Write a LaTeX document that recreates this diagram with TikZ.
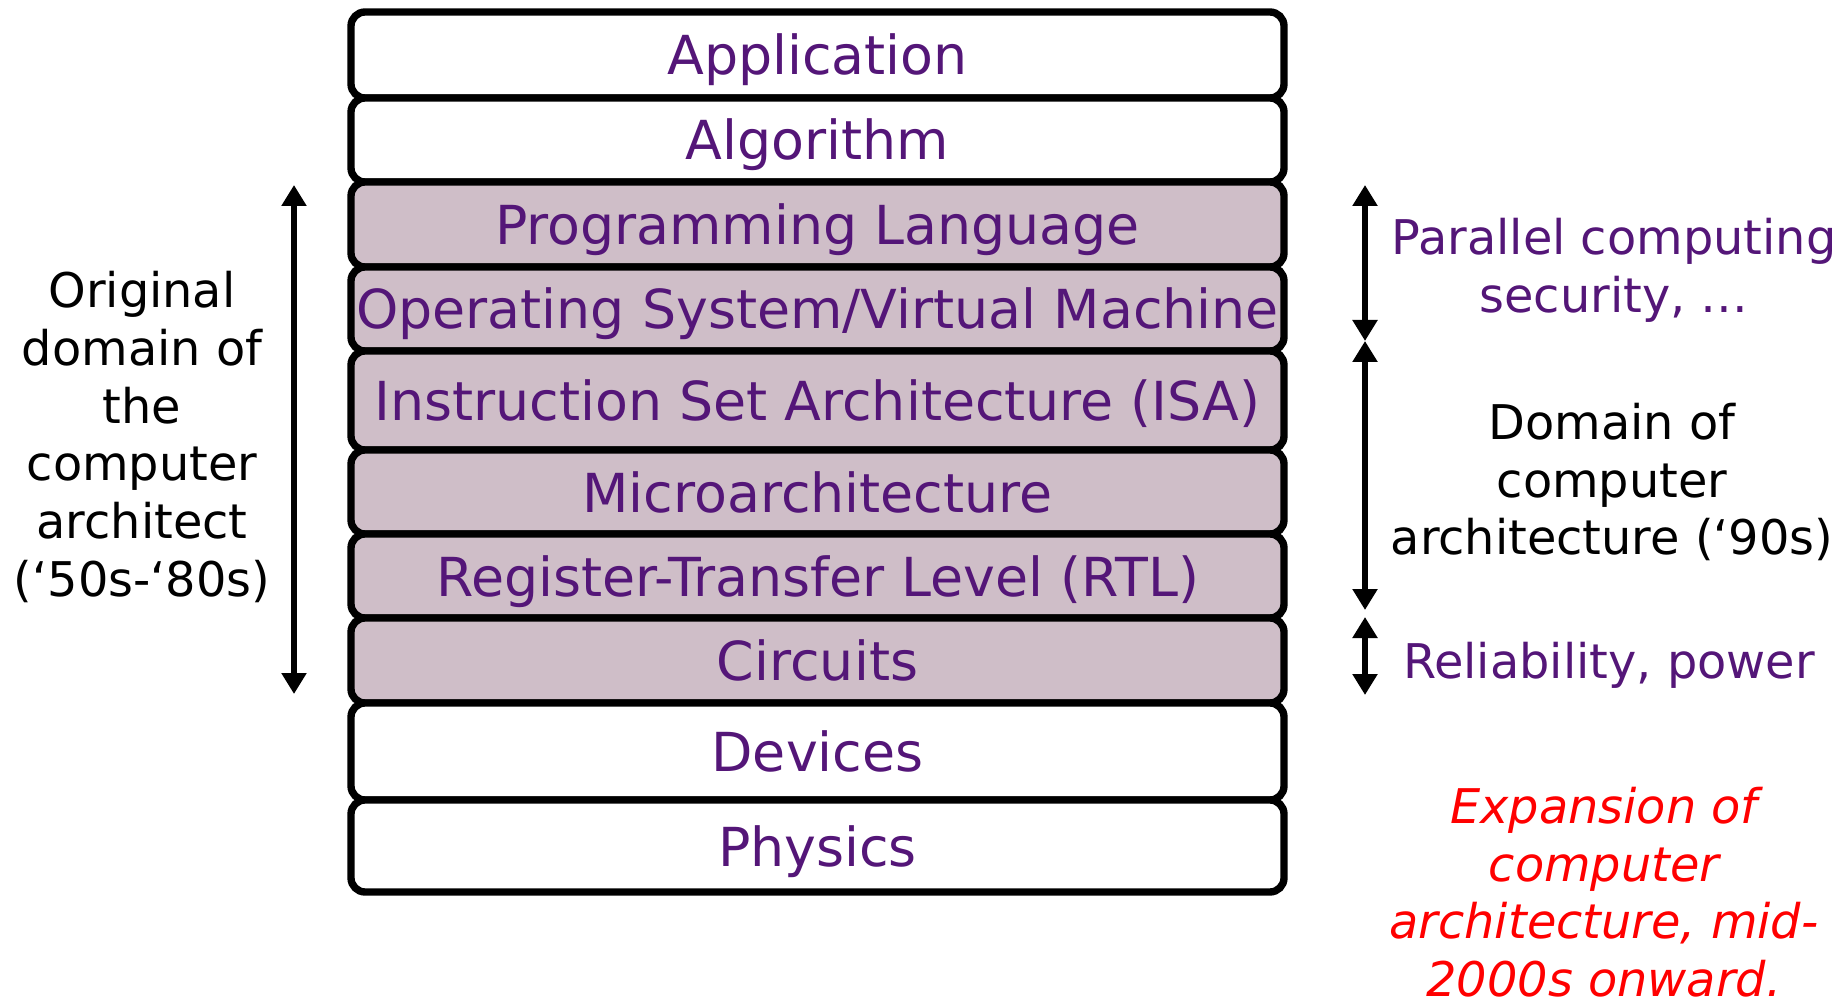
\documentclass[tikz,border=0pt]{standalone}
\usepackage{fontspec}
\setmainfont{DejaVu Sans}
\usepackage{tikz}
\usetikzlibrary{arrows.meta,positioning}

\definecolor{layertext}{RGB}{84,22,120}
\definecolor{layerfill}{RGB}{207,190,200}

\begin{document}
\begin{tikzpicture}[
    every node/.style={font=\fontsize{13.6pt}{16.4pt}\selectfont},
    layer/.style={rectangle, draw=black, line width=2.1pt, rounded corners=4pt, minimum width=9.33cm, inner sep=0pt, outer sep=0pt, text height=0.4cm, text depth=0pt, text=layertext, font=\fontsize{15.3pt}{18pt}\selectfont},
    outerlayer/.style={layer, fill=white},
    corelayer/.style={layer, fill=layerfill},
    span/.style={{Triangle[width=0.24cm,length=0.21cm]}-{Triangle[width=0.24cm,length=0.21cm]}, line width=1.7pt},
    note/.style={align=center, text=layertext}
]
\useasboundingbox (0,0) rectangle (18.45,10.04);

% Layer stack
\node[outerlayer, minimum height=0.86cm] (app) at (8.175,9.49) {Application};
\node[outerlayer, minimum height=0.84cm, below=0pt of app] (alg) {Algorithm};
\node[corelayer, minimum height=0.85cm, below=0pt of alg] (prog) {Programming Language};
\node[corelayer, minimum height=0.84cm, below=0pt of prog] (os) {Operating System/Virtual Machine};
\node[corelayer, minimum height=0.99cm, below=0pt of os] (isa) {Instruction Set Architecture (ISA)};
\node[corelayer, minimum height=0.84cm, below=0pt of isa] (uarch) {Microarchitecture};
\node[corelayer, minimum height=0.84cm, below=0pt of uarch] (rtl) {Register-Transfer Level (RTL)};
\node[corelayer, minimum height=0.85cm, below=0pt of rtl] (circ) {Circuits};
\node[outerlayer, minimum height=0.97cm, below=0pt of circ] (dev) {Devices};
\node[outerlayer, minimum height=0.92cm, below=0pt of dev] (phys) {Physics};

% Arrow ends
\coordinate (l1) at (2.94,8.19);
\coordinate (l2) at (2.94,3.10);
\coordinate (r1) at (13.65,8.19);
\coordinate (r2) at (13.65,6.63);
\coordinate (r3) at (13.65,3.94);
\coordinate (r4) at (13.65,3.87);
\coordinate (r5) at (13.65,3.09);

\draw[span] (l1) -- (l2);
\draw[span] (r1) -- (r2);
\draw[span] (r2) -- (r3);
\draw[span] (r4) -- (r5);

% Annotations
\node[align=center] (orig) at (1.42,5.67) {Original\\domain of\\the\\computer\\architect\\(‘50s-‘80s)};
\node[note] (par) at (16.14,7.34) {Parallel computing\\security, …};
\node[align=center] (dom) at (16.12,5.22) {Domain of\\computer\\architecture (‘90s)};
\node[note] (rel) at (16.09,3.39) {Reliability, power};
\node[align=center, text=red, font=\fontsize{13.6pt}{16.4pt}\selectfont\itshape] (exp) at (16.04,1.12) {Expansion of\\computer\\architecture, mid-\\2000s onward.};

\end{tikzpicture}
\end{document}
